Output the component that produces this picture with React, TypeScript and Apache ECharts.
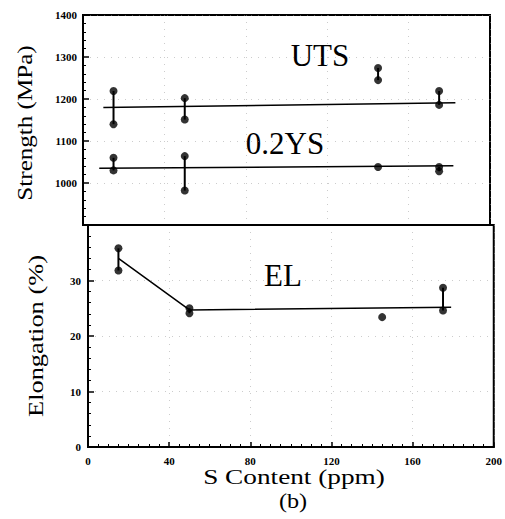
import React, { useEffect, useRef } from "react";
import * as echarts from "echarts";

// Sample sulfur contents (ppm)
const S_PPM = [15, 50, 145, 175];

// Strength (MPa): high / low readings per sample
const UTS_HI = [1219, 1202, 1274, 1219];
const UTS_LO = [1140, 1151, 1245, 1186];
const YS_HI = [1060, 1064, 1038, 1038];
const YS_LO = [1030, 982, 1038, 1028];

// Elongation (%)
const EL_HI = [35.8, 25.0, 23.4, 28.7];
const EL_LO = [31.8, 24.1, 23.4, 24.6];

// Trend lines
const UTS_FIT_X = [10, 183];
const UTS_FIT_Y = [1180, 1191];
const YS_FIT_X = [8, 182];
const YS_FIT_Y = [1035, 1041];
const EL_FIT_X = [15, 50, 179];
const EL_FIT_Y = [34, 24.7, 25.2];

// Axis ranges / labels
const X_MIN = 0;
const X_MAX = 200;
const X_STEP = 40;
const STR_MIN = 900;
const STR_MAX = 1400;
const STR_STEP = 100;
const EL_MIN = 0;
const EL_MAX = 40;
const EL_STEP = 10;

const X_TITLE = "S Content (ppm)";
const STR_TITLE = "Strength (MPa)";
const EL_TITLE = "Elongation (%)";
const SUB_TITLE = "(b)";

const SERIF = "'Liberation Serif', 'Times New Roman', serif";

function groupSeries(hi: number[], lo: number[], idx: number) {
  const pts: number[][] = [];
  S_PPM.forEach((x, i) => {
    pts.push([x, hi[i]]);
    if (lo[i] !== hi[i]) pts.push([x, lo[i]]);
  });
  const scatter = {
    type: "scatter",
    xAxisIndex: idx,
    yAxisIndex: idx,
    data: pts,
    symbol: "circle",
    symbolSize: 8,
    itemStyle: { color: "#000" },
    z: 5,
  };
  const bars = S_PPM.map((x, i) => ({
    type: "line",
    xAxisIndex: idx,
    yAxisIndex: idx,
    data: [
      [x, hi[i]],
      [x, lo[i]],
    ],
    symbol: "none",
    lineStyle: { color: "#000", width: 2 },
    silent: true,
    z: 4,
  }));
  return [scatter, ...bars];
}

function fitSeries(xs: number[], ys: number[], idx: number) {
  return {
    type: "line",
    xAxisIndex: idx,
    yAxisIndex: idx,
    data: xs.map((x, i) => [x, ys[i]]),
    symbol: "none",
    lineStyle: { color: "#000", width: 1.5 },
    silent: true,
    z: 3,
  };
}

const gridLine = {
  show: true,
  lineStyle: { color: "#999", width: 1, type: [1, 6] as any, opacity: 0.5 },
};

function label(text: string, x: number, y: number, size: number, sx: number, rot = 0) {
  return {
    type: "text",
    x,
    y,
    rotation: rot,
    scaleX: sx,
    style: {
      text,
      font: `${size}px ${SERIF}`,
      fill: "#000",
      align: "center",
      verticalAlign: "middle",
    },
  };
}

export default function App() {
  const ref = useRef<HTMLDivElement>(null);
  useEffect(() => {
    if (!ref.current) return;
    const chart = echarts.init(ref.current, null, { renderer: "svg" });
    const axisLineStyle = { show: true, onZero: false, lineStyle: { color: "#000", width: 2 } };
    const tickLabel = {
      color: "#000",
      fontFamily: SERIF,
      fontSize: 11,
      fontWeight: "bold" as const,
    };
    chart.setOption({
      animation: false,
      backgroundColor: "#fff",
      grid: [
        { left: 83, width: 407, top: 15, height: 210, show: true, borderColor: "#000", borderWidth: 2 },
        { left: 88, width: 407, top: 225, height: 222, show: true, borderColor: "#000", borderWidth: 2 },
      ],
      xAxis: [
        {
          type: "value",
          gridIndex: 0,
          min: X_MIN,
          max: X_MAX,
          interval: X_STEP,
          axisLine: axisLineStyle,
          axisTick: { show: false },
          axisLabel: { show: false },
          splitLine: gridLine,
        },
        {
          type: "value",
          gridIndex: 1,
          min: X_MIN,
          max: X_MAX,
          interval: X_STEP,
          axisLine: axisLineStyle,
          axisTick: { show: true, inside: true, length: 5, lineStyle: { color: "#000", width: 1.5 } },
          minorTick: { show: true, splitNumber: 8, length: 3, lineStyle: { color: "#000", width: 1 } },
          axisLabel: { ...tickLabel, margin: 8 },
          splitLine: gridLine,
        },
      ],
      yAxis: [
        {
          type: "value",
          gridIndex: 0,
          min: STR_MIN,
          max: STR_MAX,
          interval: STR_STEP,
          axisLine: axisLineStyle,
          axisTick: { show: true, inside: true, length: 6, lineStyle: { color: "#000", width: 1.5 } },
          minorTick: { show: true, splitNumber: 5, length: 3, lineStyle: { color: "#000", width: 1 } },
          axisLabel: {
            ...tickLabel,
            margin: 6,
            formatter: (v: number) => (v === STR_MIN ? "" : String(v)),
          },
          splitLine: gridLine,
        },
        {
          type: "value",
          gridIndex: 1,
          min: EL_MIN,
          max: EL_MAX,
          interval: EL_STEP,
          axisLine: axisLineStyle,
          axisTick: { show: true, inside: true, length: 6, lineStyle: { color: "#000", width: 1.5 } },
          minorTick: { show: true, splitNumber: 5, length: 3, lineStyle: { color: "#000", width: 1 } },
          axisLabel: {
            ...tickLabel,
            margin: 7,
            formatter: (v: number) => (v === EL_MAX ? "" : String(v)),
          },
          splitLine: gridLine,
        },
      ],
      graphic: [
        label("UTS", 320, 55, 31, 1),
        label("0.2YS", 285, 143, 31, 1),
        label("EL", 283, 275, 31, 1),
        label(STR_TITLE, 25, 123, 22, 1.14, Math.PI / 2),
        label(EL_TITLE, 35, 336, 22, 1.2, Math.PI / 2),
        label(X_TITLE, 294, 476, 22, 1.24),
        label(SUB_TITLE, 293, 500, 22, 1.1),
      ],
      series: [
        fitSeries(UTS_FIT_X, UTS_FIT_Y, 0),
        fitSeries(YS_FIT_X, YS_FIT_Y, 0),
        fitSeries(EL_FIT_X, EL_FIT_Y, 1),
        ...groupSeries(UTS_HI, UTS_LO, 0),
        ...groupSeries(YS_HI, YS_LO, 0),
        ...groupSeries(EL_HI, EL_LO, 1),
      ],
    });
    return () => chart.dispose();
  }, []);
  return (
    <div
      ref={ref}
      style={{ position: "absolute", left: 0, top: 0, width: 505, height: 519, background: "#fff" }}
    />
  );
}
